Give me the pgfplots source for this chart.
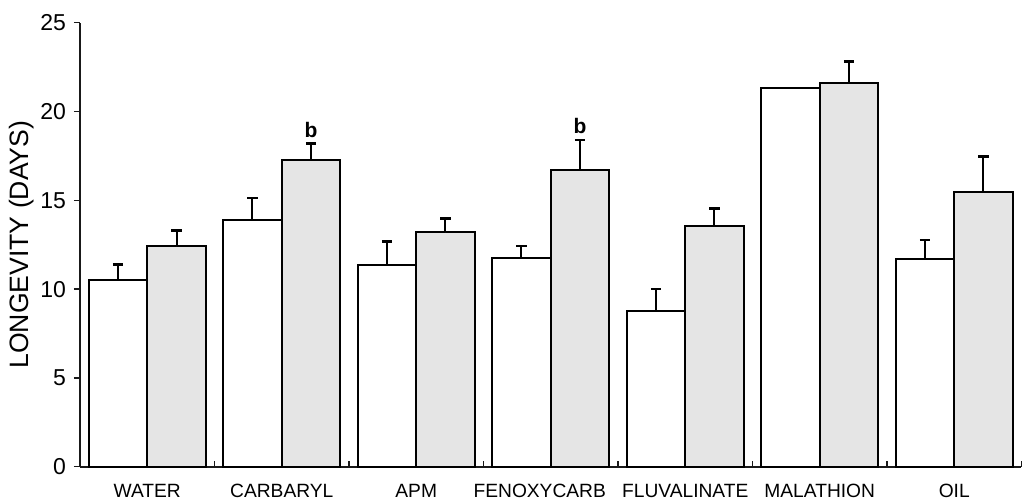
\documentclass[border=0pt]{standalone}
\usepackage{pgfplots}
\usepackage{pgfplotstable}
\pgfplotsset{compat=1.18}
\usepackage{fontspec}
\setmainfont{Liberation Sans}

% mean longevity (days) and standard error, untreated / treated;
% xw and xg are the bar centres of each pair
\pgfplotstableread{
xw       white werr  xg      grey  gerr
-0.2175  10.50 0.90  0.2175  12.40 0.90
 0.7825  13.87 1.26  1.2175  17.26 0.94
 1.7825  11.38 1.30  2.2175  13.20 0.78
 2.7825  11.76 0.66  3.2175  16.70 1.70
 3.7825   8.75 1.25  4.2175  13.55 0.98
 4.7825  21.30 0.00  5.2175  21.60 1.20
 5.7825  11.70 1.06  6.2175  15.47 1.98
}\longevity

\pgfplotsset{
  sebar/.style={
    error bars/.cd, y dir=plus, y explicit,
    error bar style={draw=black, line width=1pt},
    error mark options={rotate=90, mark size=2.6pt, line width=1.3pt, draw=black}},
}

\begin{document}
\begin{tikzpicture}
\path[use as bounding box] (-40pt,-17.75pt) rectangle (471.5pt,233.35pt);
\begin{axis}[
  at={(0,0)}, anchor=south west,
  scale only axis, width=470.75pt, height=222pt,
  xmin=-0.5, xmax=6.5, ymin=0, ymax=25,
  axis x line=bottom, axis y line=left,
  axis line style={-, line width=1pt, black!90},
  tick align=outside,
  major tick length=3pt, minor tick length=3pt,
  ytick={0,5,...,25},
  xtick={0,...,6},
  xticklabels={WATER, CARBARYL, APM, \hspace*{-11pt}FENOXYCARB, FLUVALINATE, MALATHION, OIL},
  minor xtick={0.5,1.5,2.5,3.5,4.5,5.5,6.5},
  major x tick style={draw=none},
  minor x tick style={line width=0.7pt, black!90, yshift=3pt},
  major y tick style={line width=0.7pt, black!90},
  /pgf/number format/assume math mode=true,
  yticklabel style={font=\fontsize{11.5}{13}\selectfont, xshift=-0.5pt},
  xticklabel style={font=\fontsize{9.6}{11}\selectfont, anchor=north,
    text height=7pt, text depth=0pt, yshift=-2pt},
  ylabel={LONGEVITY (DAYS)},
  every axis y label/.style={at={(axis description cs:-0.062,0.50)}, rotate=90,
    anchor=center, font=\fontsize{13.3}{15}\selectfont},
  clip=false,
]
% untreated bars, with their error bars drawn separately (none for malathion)
\addplot[ybar, bar width=0.435, bar shift=0, fill=white, draw=black, line width=1pt]
  table[x=xw, y=white] {\longevity};
\addplot[draw=none, forget plot, skip coords between index={5}{6}, sebar]
  table[x=xw, y=white, y error=werr] {\longevity};
% treated bars
\addplot[ybar, bar width=0.435, bar shift=0, fill=gray!20, draw=black, line width=1pt, sebar]
  table[x=xg, y=grey, y error=gerr] {\longevity};
\node[font=\bfseries\fontsize{10.5}{12}\selectfont] at (axis cs:1.2175,18.95) {b};
\node[font=\bfseries\fontsize{10.5}{12}\selectfont] at (axis cs:3.2175,19.2) {b};
\end{axis}
\end{tikzpicture}
\end{document}
